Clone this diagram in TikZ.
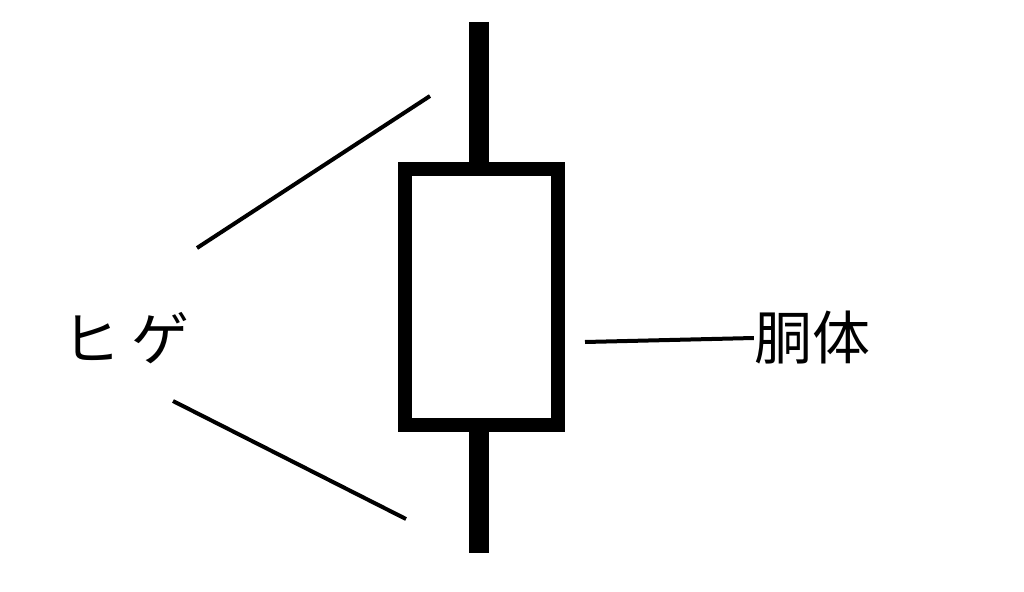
\documentclass[tikz,border=0pt]{standalone}
\usepackage{fontspec}
\newfontfamily\cjk{Noto Sans CJK JP}
\begin{document}
\begin{tikzpicture}[x=1pt,y=-1pt,
  lbl/.style={font=\cjk\fontsize{58}{60}\selectfont,inner sep=0pt},
  thin/.style={line width=4pt}]
\useasboundingbox (0,0) rectangle (1024,591);
\draw[line width=20pt] (479,22) -- (479,553);
\node[draw,line width=14pt,fill=white,minimum width=153pt,minimum height=256pt,inner sep=0pt] (body) at (481.5,297) {};
\node[lbl] (hige) at (126,338) {ヒ\hspace{12pt}ゲ};
\node[lbl] (dou) at (812,338) {胴体};
\coordinate (a1) at (197,248); \coordinate (a2) at (430,96);
\coordinate (b1) at (173,401); \coordinate (b2) at (406,519);
\coordinate (c1) at (585,342);
\draw[thin] (a1) -- (a2);
\draw[thin] (b1) -- (b2);
\draw[thin] (c1) -- (dou.west);
\end{tikzpicture}
\end{document}
